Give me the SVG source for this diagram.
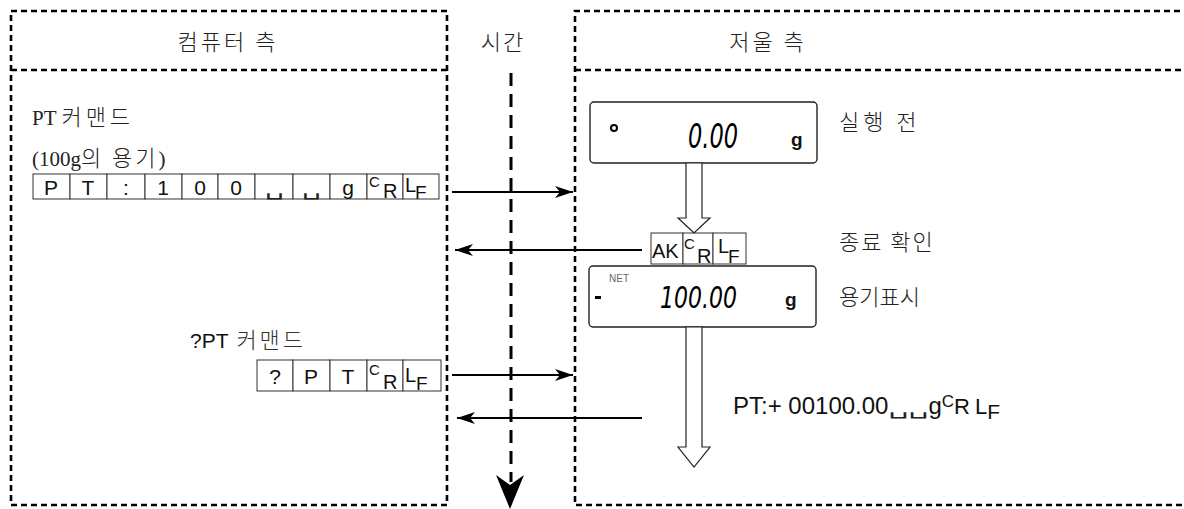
<svg xmlns="http://www.w3.org/2000/svg" width="1184" height="509" viewBox="0 0 1184 509">
<defs>
<style>
.frame{fill:none;stroke:#000;stroke-width:2.6;stroke-dasharray:6 4}
.kr{font-family:"Noto Sans CJK KR",sans-serif;font-size:22px;fill:#222;font-weight:300}
.sr{font-family:"Liberation Serif","Noto Sans CJK KR",serif;font-size:21px;fill:#222}
.ar{font-family:"Liberation Sans",Arial,sans-serif;fill:#111}
.cell{fill:#fff;stroke:#333;stroke-width:1}
.conn{stroke:#000;stroke-width:2;fill:none}
.hollow{fill:#fff;stroke:#222;stroke-width:1.2}
.disp{fill:#fff;stroke:#222;stroke-width:1.4}
.seg{font-family:"DejaVu Sans Condensed","DejaVu Sans",sans-serif;font-style:oblique;fill:#000}
.ob{font-family:"DejaVu Sans",sans-serif;fill:#222}
</style>
<marker id="ah" markerUnits="userSpaceOnUse" markerWidth="20" markerHeight="14" refX="18" refY="7" orient="auto">
<path d="M0,1 L18,7 L0,13 L5,7 z" fill="#000"/>
</marker>
</defs>
<rect width="1184" height="509" fill="#fff"/>

<g id="computer-side">
<rect class="frame" x="11" y="11" width="436" height="494"/>
<line class="frame" x1="11" y1="70" x2="447" y2="70"/>
<text class="kr" x="228" y="50" text-anchor="middle" letter-spacing="3">컴퓨터 측</text>
</g>

<g id="time-axis">
<text class="kr" x="503" y="50" text-anchor="middle" letter-spacing="2">시간</text>
<line x1="511" y1="73" x2="511" y2="482" stroke="#000" stroke-width="3" stroke-dasharray="13 8"/>
<path d="M496,475 L510,509 L524,475 L510,485 z" fill="#000"/>
</g>

<g id="balance-side">
<path class="frame" d="M1250,11 H575 V505 H1250"/>
<line class="frame" x1="575" y1="70" x2="1250" y2="70"/>
<text class="kr" x="768" y="50" text-anchor="middle" letter-spacing="3">저울 측</text>
</g>

<g id="pt-command">
<text class="sr" x="32" y="125">PT <tspan font-family="Noto Sans CJK KR" font-weight="300" font-size="22" letter-spacing="4">커맨드</tspan></text>
<text class="sr" x="32" y="166">(100g<tspan font-family="Noto Sans CJK KR" font-weight="300" font-size="22" letter-spacing="3">의 용기</tspan>)</text>
<g>
<rect class="cell" x="33" y="174" width="37" height="25"/>
<rect class="cell" x="70" y="174" width="37" height="25"/>
<rect class="cell" x="107" y="174" width="38" height="25"/>
<rect class="cell" x="145" y="174" width="37" height="25"/>
<rect class="cell" x="182" y="174" width="36" height="25"/>
<rect class="cell" x="218" y="174" width="37" height="25"/>
<rect class="cell" x="255" y="174" width="38" height="25"/>
<rect class="cell" x="293" y="174" width="37" height="25"/>
<rect class="cell" x="330" y="174" width="37" height="25" stroke="#000" stroke-width="1.4"/>
<rect class="cell" x="367" y="174" width="36" height="25" stroke="#000" stroke-width="1.4"/>
<rect class="cell" x="403" y="174" width="36" height="25" stroke="#000" stroke-width="1.4"/>
<g class="ar" font-size="21" text-anchor="middle">
<text x="51" y="195">P</text>
<text x="88" y="195">T</text>
<text x="126" y="195">:</text>
<text x="163" y="195">1</text>
<text x="200" y="195">0</text>
<text x="236" y="195">0</text>
<text x="348" y="195">g</text>
</g>
<text class="ob" x="265" y="195" font-size="19" textLength="19" lengthAdjust="spacingAndGlyphs">␣</text>
<text class="ob" x="302" y="195" font-size="19" textLength="19" lengthAdjust="spacingAndGlyphs">␣</text>
<text class="ar" x="369" y="187" font-size="15">C</text>
<text class="ar" x="383" y="198" font-size="20">R</text>
<text class="ar" x="405" y="192" font-size="20">L</text>
<text class="ar" x="415" y="199" font-size="19">F</text>
</g>
</g>

<g id="qpt-command">
<text x="190" y="348"><tspan class="ar" font-size="21">?PT</tspan><tspan font-family="Noto Sans CJK KR" font-weight="300" font-size="22" fill="#333" letter-spacing="3"> 커맨드</tspan></text>
<rect class="cell" x="257" y="360" width="36" height="31"/>
<rect class="cell" x="293" y="360" width="37" height="31"/>
<rect class="cell" x="330" y="360" width="37" height="31"/>
<rect class="cell" x="367" y="360" width="36" height="31"/>
<rect class="cell" x="403" y="360" width="38" height="31"/>
<g class="ar" font-size="21" text-anchor="middle">
<text x="275" y="384">?</text>
<text x="311" y="384">P</text>
<text x="348" y="384">T</text>
</g>
<text class="ar" x="369" y="375" font-size="15">C</text>
<text class="ar" x="383" y="389" font-size="20">R</text>
<text class="ar" x="405" y="382" font-size="20">L</text>
<text class="ar" x="416" y="390" font-size="19">F</text>
</g>

<g id="display-before">
<rect class="disp" x="590" y="102" width="227" height="61" rx="4"/>
<circle cx="614" cy="128" r="3" fill="none" stroke="#000" stroke-width="2"/>
<text class="seg" x="688" y="148" font-size="34" textLength="50" lengthAdjust="spacingAndGlyphs">0.00</text>
<text class="ar" x="791" y="146" font-size="19" font-weight="bold">g</text>
<text class="kr" x="839" y="130" letter-spacing="4">실행 전</text>
</g>

<g id="ack">
<rect class="cell" x="651" y="233" width="32" height="31"/>
<rect class="cell" x="683" y="233" width="30" height="31"/>
<rect class="cell" x="713" y="233" width="33" height="31"/>
<text class="ar" x="652" y="258" font-size="20">AK</text>
<text class="ar" x="684" y="249" font-size="15">C</text>
<text class="ar" x="697" y="263" font-size="20">R</text>
<text class="ar" x="718" y="253" font-size="20">L</text>
<text class="ar" x="728" y="263" font-size="19">F</text>
<text class="kr" x="839" y="250" letter-spacing="2">종료 확인</text>
</g>

<g id="display-tare">
<rect class="disp" x="589" y="266" width="227" height="61" rx="4"/>
<text x="609" y="282" font-family="Liberation Sans,sans-serif" font-size="10" fill="#666">NET</text>
<rect x="595" y="296" width="6" height="3" fill="#000"/>
<text class="seg" x="660" y="308" font-size="30" textLength="77" lengthAdjust="spacingAndGlyphs">100.00</text>
<text class="ar" x="785" y="306" font-size="19" font-weight="bold">g</text>
<text class="kr" x="839" y="305" letter-spacing="0">용기표시</text>
</g>

<g id="response">
<text class="ar" x="733" y="414" font-size="24">PT:+ 00100.00<tspan class="ob" font-size="19" textLength="40" lengthAdjust="spacingAndGlyphs">␣␣</tspan>g<tspan font-size="17" dy="-7">C</tspan><tspan font-size="22" dy="7">R</tspan><tspan font-size="22" dx="5">L</tspan><tspan font-size="21" dy="5">F</tspan></text>
</g>

<g id="connectors">
<polygon class="hollow" points="686,163 686,218 678,218 694,233 710,218 702,218 702,163"/>
<polygon class="hollow" points="686,327 686,447 678,447 694,467 710,447 702,447 702,327"/>
<line class="conn" x1="452" y1="192" x2="573" y2="192" marker-end="url(#ah)"/>
<line class="conn" x1="642" y1="250" x2="455" y2="250" marker-end="url(#ah)"/>
<line class="conn" x1="452" y1="375" x2="573" y2="375" marker-end="url(#ah)"/>
<line class="conn" x1="642" y1="418" x2="457" y2="418" marker-end="url(#ah)"/>
</g>
</svg>
